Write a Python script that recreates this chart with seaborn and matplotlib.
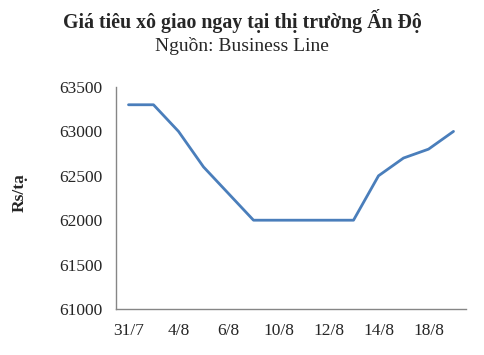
import matplotlib
matplotlib.use("Agg")
import matplotlib.pyplot as plt
import seaborn as sb

dates = ['31/7', '1/8', '4/8', '5/8', '6/8', '7/8', '10/8', '11/8',
         '12/8', '13/8', '14/8', '15/8', '18/8', '19/8']
prices = [63300, 63300, 63000, 62600, 62300, 62000, 62000, 62000,
          62000, 62000, 62500, 62700, 62800, 63000]
shown_labels = ['31/7', '4/8', '6/8', '10/8', '12/8', '14/8', '18/8']
y_ticks = [61000, 61500, 62000, 62500, 63000, 63500]

sb.set_style("white")
plt.rcParams['font.family'] = ['Liberation Serif', 'DejaVu Serif']

fig = plt.figure(figsize=(4.84, 3.55), dpi=100)
ax = fig.add_axes([116/484, 46/355, 350/484, 222/355])

idx = list(range(len(dates)))
sb.lineplot(x=idx, y=prices, ax=ax, color='#4A7EBB', linewidth=2.0)

tick_pos = [dates.index(d) for d in shown_labels]
ax.set_xticks(tick_pos)
ax.set_xticklabels(shown_labels, fontsize=12.5)
ax.set_yticks(y_ticks)
ax.set_yticklabels([str(v) for v in y_ticks], fontsize=12.5)
ax.set_xlim(-0.5, len(dates) - 0.5)
ax.set_ylim(61000, 63500)
ax.tick_params(axis='both', length=0, pad=10)

for s in ['top', 'right']:
    ax.spines[s].set_visible(False)
for s in ['left', 'bottom']:
    ax.spines[s].set_color('#868686')
    ax.spines[s].set_linewidth(1.0)

fig.text(0.5, 1 - 28/355, 'Giá tiêu xô giao ngay tại thị trường Ấn Độ',
         ha='center', va='baseline', fontsize=14.3, fontweight='bold')
fig.text(0.5, 1 - 51/355, 'Nguồn: Business Line',
         ha='center', va='baseline', fontsize=14)
fig.text(20/484, 1 - 193/355, 'Rs/tạ', rotation=90,
         ha='center', va='center', fontsize=12.5, fontweight='bold')

fig.savefig('out.png', dpi=100)
